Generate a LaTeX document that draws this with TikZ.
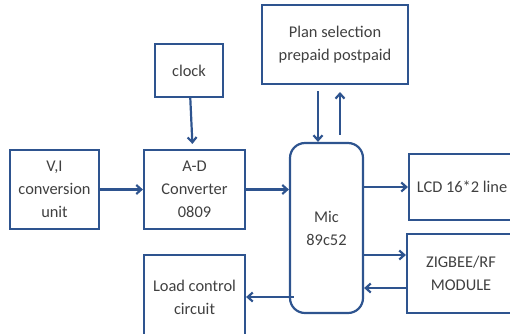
\documentclass[tikz,border=0pt]{standalone}
\usepackage{fontspec}
\setmainfont{Carlito}
\usepackage{tikz}
\usetikzlibrary{arrows.meta}
\definecolor{blkblue}{RGB}{46,84,143}
\tikzset{blk/.style={draw=blkblue, line width=2.2pt, align=center, inner sep=0pt,
    font=\fontsize{16.4}{23}\selectfont, text=black!75},
  conn/.style={->, line width=2.2pt, draw=blkblue}}

\begin{document}
\begin{tikzpicture}[x=1pt, y=-1pt, >={Straight Barb[length=5pt,width=9pt]}]
\useasboundingbox (0,0) rectangle (510,333);
\clip (0,0) rectangle (510,333);
\node[blk, minimum width=89, minimum height=79] (vi) at (54.5,189.5) {V,I\\conversion\\unit};
\node[blk, minimum width=101, minimum height=79] (adc) at (194.5,189.5) {A-D\\Converter\\0809};
\node[blk, minimum width=68, minimum height=53] (clk) at (189,70.5) {clock};
\node[blk, minimum width=146, minimum height=79] (plan) at (335,44.5) {Plan selection\\prepaid postpaid};
\node[blk, rounded corners=15pt, minimum width=73, minimum height=170] (mic) at (326.5,228) {Mic\\89c52};
\node[blk, minimum width=106, minimum height=66] (lcd) at (462,187) {LCD 16*2 line};
\node[blk, minimum width=108, minimum height=79] (zig) at (461,273.5) {ZIGBEE/RF\\MODULE};
\node[blk, minimum width=101, minimum height=84] (load) at (194.5,297) {Load control\\circuit};

\draw[conn, shorten >=5pt] (clk) -- (adc);
\draw[conn] (vi) -- (adc);
\draw[conn] (adc) -- (adc -| mic.west);
\draw[conn] ([xshift=-8.5pt]mic.north |- 0,91) -- ([xshift=-8.5pt]mic.north);
\draw[conn] ([xshift=13.5pt,yshift=7pt]mic.north) -- ([xshift=13.5pt]mic.north |- 0,92);
\draw[conn] (mic.east |- lcd) -- (lcd);
\draw[conn] (mic.east |- 0,255) -- (zig.west |- 0,255);
\draw[conn] (zig.west |- 0,288) -- (mic.east |- 0,288);
\draw[conn] ([xshift=5pt]mic.west |- load) -- (load);
\end{tikzpicture}
\end{document}
